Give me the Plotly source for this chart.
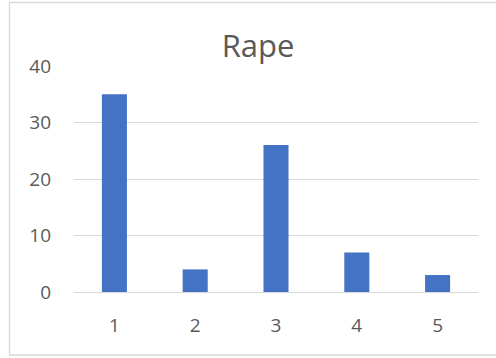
import plotly.graph_objects as go

categories = ["1", "2", "3", "4", "5"]
values = [35, 4, 26, 7, 3]
y_ticks = [0, 10, 20, 30, 40]

W, H = 496, 358
L, R, T, B = 74, 18, 66, 66
pw, ph = W - L - R, H - T - B

def px_to_paper_x(px):
    return (px - L) / pw

def px_to_paper_y(py):
    return (H - B - py) / ph

fig = go.Figure(go.Bar(
    x=categories,
    y=values,
    marker=dict(color="#4472C4", line=dict(width=0)),
    width=0.31,
))

fig.update_layout(
    width=W,
    height=H,
    margin=dict(l=L, r=R, t=T, b=B),
    paper_bgcolor="white",
    plot_bgcolor="white",
    showlegend=False,
    font=dict(family="Open Sans, Liberation Sans, sans-serif", color="#595959"),
    title=dict(
        text="Rape",
        xref="container",
        x=258 / W,
        xanchor="center",
        y=1 - 46 / H,
        yanchor="middle",
        font=dict(size=31, color="#595959"),
    ),
    xaxis=dict(
        type="category",
        showgrid=False,
        showline=False,
        ticks="",
        tickfont=dict(size=19, color="#595959"),
        ticklabelstandoff=20,
    ),
    yaxis=dict(
        range=[0, 40],
        tickvals=y_ticks,
        showgrid=True,
        gridcolor="#D9D9D9",
        gridwidth=1.2,
        zeroline=True,
        zerolinecolor="#D9D9D9",
        zerolinewidth=1.2,
        showline=False,
        ticks="",
        tickfont=dict(size=19, color="#595959"),
        ticklabelstandoff=22,
    ),
    shapes=[
        dict(
            type="rect",
            xref="paper",
            yref="paper",
            x0=px_to_paper_x(9.5),
            x1=px_to_paper_x(560),
            y0=px_to_paper_y(355),
            y1=px_to_paper_y(2.5),
            line=dict(color="#D9D9D9", width=1.3),
            fillcolor="rgba(0,0,0,0)",
            layer="below",
        )
    ],
)

fig.write_html("out.html")
